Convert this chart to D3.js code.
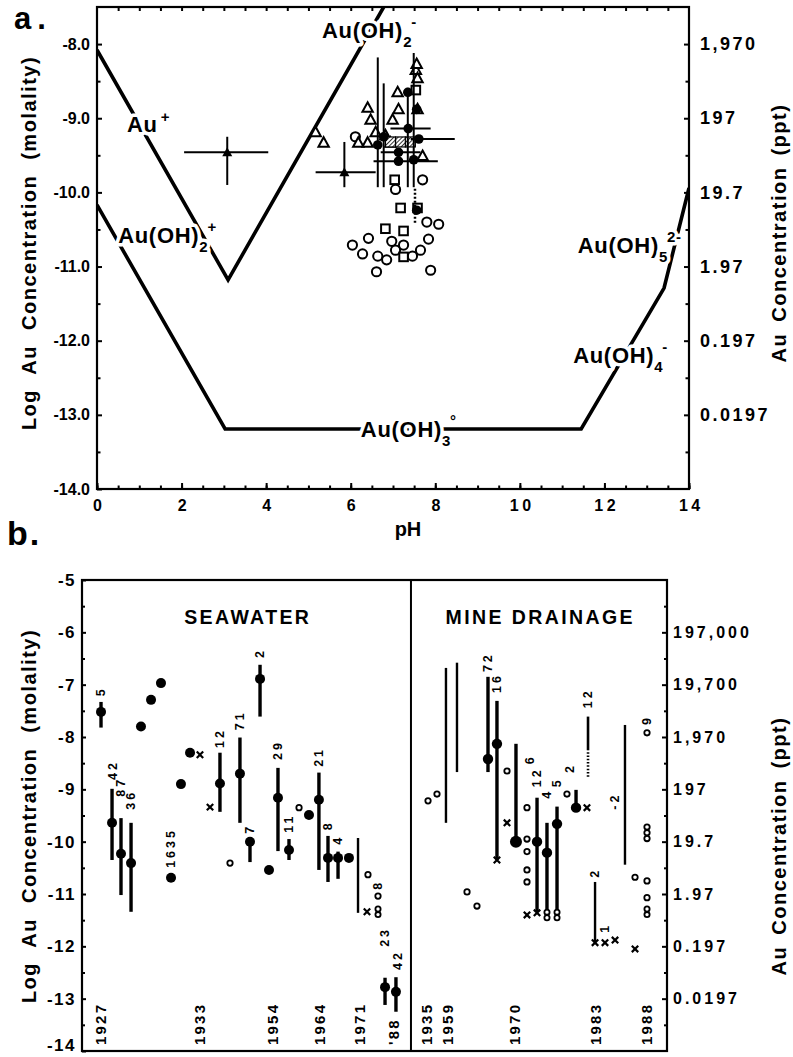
<!DOCTYPE html>
<html><head><meta charset="utf-8">
<script src="https://cdn.jsdelivr.net/npm/d3@7"></script>
<style>
html,body{margin:0;padding:0;background:#fff;}
text{font-family:"Liberation Sans",Arial,Helvetica,sans-serif;font-weight:bold;fill:#000;}
</style></head><body>
<svg id="chart" width="793" height="1057" xmlns="http://www.w3.org/2000/svg"></svg>
<script>
// ================= PANEL a DATA =================
const phTickValues = [0, 2, 4, 6, 8, 10, 12, 14];
const logTickValuesA = [-14, -13, -12, -11, -10, -9, -8];
const pptTickValuesA = [-13, -12, -11, -10, -9, -8];
const pptTickLabelsA = ["0.0197", "0.197", "1.97", "19.7", "197", "1,970"];

// stability boundaries [pH, log molality]
const boundaryAuPlus = [[0, -8.08], [3.10, -11.18], [6.78, -7.5]];
const boundaryAuOH3 = [[0, -10.17], [3.03, -13.19], [11.45, -13.19], [13.41, -11.29], [14, -9.94]];

// species labels: base, subscript, superscript, pH, log (baseline start)
const speciesLabels = [
  {base: "Au", sub: "", sup: "+", ph: 0.71, log: -9.19},
  {base: "Au(OH)", sub: "2", sup: "-", ph: 5.32, log: -7.92},
  {base: "Au(OH)", sub: "2", sup: "+", ph: 0.50, log: -10.68},
  {base: "Au(OH)", sub: "3", sup: "°", ph: 6.24, log: -13.30},
  {base: "Au(OH)", sub: "4", sup: "-", ph: 11.26, log: -12.30},
  {base: "Au(OH)", sub: "5", sup: "2-", ph: 11.37, log: -10.82}
];

const openTriangles = [[5.17,-9.19],[5.36,-9.33],[7.54,-8.35],[7.58,-8.46],[7.56,-8.27],[7.11,-8.65],
  [6.40,-8.86],[7.13,-8.88],[7.58,-8.88],[6.47,-9.02],[6.99,-9.02],[6.59,-9.19],[6.18,-9.33],
  [6.40,-9.33],[6.82,-9.23],[6.94,-9.33],[7.70,-9.51]];
const openCircles = [[6.11,-9.25],[7.06,-9.96],[7.70,-9.83],[7.80,-10.40],[8.08,-10.43],[7.84,-10.63],
  [6.04,-10.71],[6.42,-10.62],[6.28,-10.83],[6.64,-10.86],[6.85,-10.91],[6.97,-10.66],[7.06,-10.78],
  [7.25,-10.71],[7.46,-10.86],[7.65,-10.78],[6.61,-11.07],[7.89,-11.05]];
const openSquares = [[7.04,-9.83],[7.18,-10.21],[6.82,-10.49],[7.25,-10.52],[7.25,-10.87],[7.54,-8.62],[7.58,-10.21]];
const hatchedSquares = [[6.94,-9.32],[7.18,-9.32],[7.41,-9.32]];
// filled circles: [pH, log, logLo, logHi, pHLo, pHHi]
const filledCircles = [
  [6.64,-9.36,-9.93,-8.18,null,null],
  [6.78,-9.25,-9.93,-8.53,null,null],
  [7.13,-9.58,null,null,6.54,8.06],
  [7.13,-9.46,null,null,6.71,7.65],
  [7.49,-9.56,-9.93,-8.12,null,null],
  [7.36,-9.14,null,null,6.94,7.89],
  [7.61,-9.28,null,null,7.42,8.46],
  [7.35,-8.65,-9.93,-8.59,null,null],
  [7.56,-8.88,null,null,null,null],
  [7.56,-10.24,null,null,null,null]
];
const dottedRangesA = [[7.52,-10.41,-9.94]];
// filled triangles: [pH, log, logLo, logHi, pHLo, pHHi]
const filledTriangles = [[3.08,-9.46,-9.90,-9.25,2.06,4.05],[5.85,-9.73,-9.93,-9.32,5.17,6.59]];

// ================= PANEL b DATA =================
const logTickValuesB = [-14, -13, -12, -11, -10, -9, -8, -7, -6, -5];
const pptTickValuesB = [-13, -12, -11, -10, -9, -8, -7, -6];
const pptTickLabelsB = ["0.0197", "0.197", "1.97", "19.7", "197", "1,970", "19,700", "197,000"];
const groupNames = ["SEAWATER", "MINE DRAINAGE"];
const groupCenters = [17, 47];
const dividerSlot = 33.74;

// filled points: [slot, value, lo, hi]
const swPoints = [
  [1.95,-7.52,-7.82,-7.33],[3.08,-9.64,-10.35,-8.99],[4.0,-10.23,-11.02,-9.55],[5.03,-10.41,-11.34,-9.64],
  [6.05,-7.80,null,null],[7.08,-7.29,null,null],[8.1,-6.97,null,null],[9.13,-10.69,null,null],
  [10.15,-8.90,null,null],[11.08,-8.30,null,null],[14.15,-8.89,-9.43,-8.30],[16.2,-8.70,-9.64,-8.01],
  [17.23,-10.0,-10.39,-9.97],[18.26,-6.89,-7.61,-6.62],[19.18,-10.54,null,null],[20.1,-9.16,-10.18,-8.59],
  [21.23,-10.16,-10.35,-9.95],[23.28,-9.49,null,null],[24.3,-9.20,-10.54,-8.68],[25.23,-10.31,-10.77,-9.89],
  [26.26,-10.31,-10.71,-10.19],[27.38,-10.31,null,null],[31.08,-12.78,-13.12,-12.60],[32.2,-12.87,-13.25,-12.59]
];
const mdPoints = [
  [41.64,-8.42,-8.67,-6.85],[42.56,-8.13,-10.35,-7.31],[44.51,-10.0,-10.0,-8.13],[46.67,-10.0,-11.34,-9.16],
  [47.69,-10.21,-11.44,-9.64],[48.72,-9.66,-11.44,-9.33],[50.67,-9.35,-9.35,-9.01]
];
// range bars without a point: [slot, lo, hi]
const thinBars = [[28.31,-11.36,-9.93],[37.33,-9.64,-6.68],[38.46,-8.67,-6.58],[55.69,-10.44,-7.77],[52.62,-11.93,-10.77]];
// dotted range: [slot, lo, hi, solidTo]
const dottedBars = [[51.9,-8.76,-7.61,-8.25]];
// small open circles: [slot, value]
const smallCircles = [
  [15.18,-10.41],[22.26,-9.35],[29.33,-10.63],[30.36,-11.04],
  [35.49,-9.22],[36.41,-9.09],[39.49,-10.96],[40.51,-11.23],[43.59,-8.65],
  [45.64,-9.35],[45.64,-9.95],[45.64,-10.19],[45.64,-10.54],[45.64,-10.77],
  [49.74,-9.09],[56.72,-10.68],
  [57.95,-7.92],[57.95,-9.72],[57.95,-9.83],[57.95,-9.94],[57.95,-10.75],[57.95,-11.07]
];
// double circles: [slot, value]
const doubleCircles = [[30.36,-11.34],[47.69,-11.40],[48.72,-11.40],[57.95,-11.34]];
// crosses: [slot, value]
const crosses = [[12.1,-8.34],[13.13,-9.34],[29.23,-11.34],[42.56,-10.35],[43.59,-9.64],[45.64,-11.40],
  [46.67,-11.36],[51.79,-9.35],[52.62,-11.93],[53.64,-11.93],[54.67,-11.88],[56.72,-12.05]];
// sample-count labels: [slot, value at label start, text]
const countLabels = [
  [1.95,-7.22,"5"],[3.2,-8.82,"42"],[4.0,-9.14,"87"],[5.03,-9.39,"36"],[9.13,-10.5,"1635"],
  [14.15,-8.21,"12"],[16.2,-7.87,"71"],[17.23,-9.85,"7"],[18.26,-6.49,"2"],[20.1,-8.44,"29"],
  [21.23,-9.83,"11"],[24.3,-8.57,"21"],[25.23,-9.78,"8"],[26.26,-10.06,"4"],[30.36,-10.92,"8"],
  [31.08,-12.01,"23"],[32.4,-12.45,"42"],
  [41.64,-6.76,"72"],[42.56,-7.16,"16"],[45.95,-8.52,"6"],[46.67,-8.96,"12"],[47.69,-9.18,"4"],
  [48.72,-8.96,"5"],[50.05,-8.69,"2"],[51.9,-7.45,"12"],[52.62,-10.69,"2"],[53.64,-11.74,"1"],
  [54.67,-9.39,"-2"],[57.95,-7.77,"9"]
];
// year labels: [slot, text]
const yearLabels = [
  [1.85,"1927"],[12.1,"1933"],[19.49,"1954"],[24.41,"1964"],[28.51,"1971"],[31.9,"'88"],
  [35.38,"1935"],[37.44,"1959"],[44.41,"1970"],[52.62,"1983"],[57.85,"1988"]
];

// ================= DRAWING =================
const svg = d3.select("#chart");
const defs = svg.append("defs");
const pat = defs.append("pattern").attr("id","hatch").attr("patternUnits","userSpaceOnUse")
  .attr("width",3).attr("height",3).attr("patternTransform","rotate(45)");
pat.append("rect").attr("width",3).attr("height",3).attr("fill","#fff");
pat.append("line").attr("x1",0).attr("y1",0).attr("x2",0).attr("y2",3).attr("stroke","#000").attr("stroke-width",1.6);

function vtext(g, x, y, s, size, ls, anchor) {
  return g.append("text")
    .attr("transform", `translate(${x},${y}) rotate(-90)`)
    .attr("text-anchor", anchor)
    .attr("dominant-baseline", "central")
    .style("font-size", size + "px")
    .style("letter-spacing", ls + "px")
    .text(s);
}

// ---------- Panel a ----------
const xA = d3.scaleLinear().domain([0, 14]).range([97, 689]);
const yA = d3.scaleLinear().domain([-14, -7.5]).range([489, 7]);
const gA = svg.append("g");

// boundary lines
const lineA = d3.line().x(d => xA(d[0])).y(d => yA(d[1]));
const clipA = defs.append("clipPath").attr("id", "clipA");
clipA.append("rect").attr("x", xA(0)).attr("y", yA(-7.5)).attr("width", xA(14) - xA(0)).attr("height", yA(-14) - yA(-7.5));
[boundaryAuPlus, boundaryAuOH3].forEach(b => {
  gA.append("path").attr("d", lineA(b)).attr("fill", "none").attr("stroke", "#000")
    .attr("stroke-width", 3.6).attr("stroke-linejoin", "miter").attr("clip-path", "url(#clipA)");
});

// species labels with white halo (breaks the lines)
speciesLabels.forEach(l => {
  const t = gA.append("text").attr("x", xA(l.ph)).attr("y", yA(l.log))
    .style("font-size", "22px").style("letter-spacing", "0.7px")
    .attr("stroke", "#fff").attr("stroke-width", 7).attr("paint-order", "stroke").attr("stroke-linejoin", "round");
  t.append("tspan").text(l.base);
  if (l.sub) t.append("tspan").attr("dy", 9).style("font-size", "15px").text(l.sub);
  if (l.sup) t.append("tspan").attr("dy", l.sub ? -20 : -10).attr("dx", l.sub ? -1 : 3).style("font-size", "15px").text(l.sup);
});

// frame (drawn after halos)
gA.append("rect").attr("x", xA(0)).attr("y", yA(-7.5)).attr("width", xA(14) - xA(0))
  .attr("height", yA(-14) - yA(-7.5)).attr("fill", "none").attr("stroke", "#000").attr("stroke-width", 2.2);

// bottom axis: labels + major ticks
const axB = gA.append("g").attr("transform", `translate(0,${yA(-14)})`)
  .call(d3.axisBottom(xA).tickValues(phTickValues).tickSizeInner(-6).tickSizeOuter(0).tickPadding(11).tickFormat(d => String(d)));
axB.select(".domain").remove();
axB.selectAll("line").attr("stroke-width", 2);
axB.selectAll("text").style("font-size", "16px").style("letter-spacing", "3.5px").attr("dx", "1.8px").attr("fill", "#000");
const axBm = gA.append("g").attr("transform", `translate(0,${yA(-14)})`)
  .call(d3.axisBottom(xA).tickValues(d3.range(0, 14.01, 0.5)).tickSizeInner(-3.5).tickSizeOuter(0).tickFormat(""));
axBm.select(".domain").remove(); axBm.selectAll("line").attr("stroke-width", 2);
const axT = gA.append("g").attr("transform", `translate(0,${yA(-7.5)})`)
  .call(d3.axisTop(xA).tickValues(d3.range(0.5, 14, 0.5)).tickSizeInner(-4).tickSizeOuter(0).tickFormat(""));
axT.select(".domain").remove(); axT.selectAll("line").attr("stroke-width", 2);

// left axis
const axL = gA.append("g").attr("transform", `translate(${xA(0)},0)`)
  .call(d3.axisLeft(yA).tickValues(logTickValuesA).tickSizeInner(-5).tickSizeOuter(0).tickPadding(7).tickFormat(d => d.toFixed(1)));
axL.select(".domain").remove(); axL.selectAll("line").attr("stroke-width", 2);
axL.selectAll("text").style("font-size", "16px").attr("fill", "#000");
const axLm = gA.append("g").attr("transform", `translate(${xA(0)},0)`)
  .call(d3.axisLeft(yA).tickValues(d3.range(-13.5, -7.5, 1)).tickSizeInner(-3.5).tickSizeOuter(0).tickFormat(""));
axLm.select(".domain").remove(); axLm.selectAll("line").attr("stroke-width", 2);

// right axis
const axR = gA.append("g").attr("transform", `translate(${xA(14)},0)`)
  .call(d3.axisRight(yA).tickValues(pptTickValuesA).tickSizeInner(-5).tickSizeOuter(0).tickPadding(11).tickFormat((d, i) => pptTickLabelsA[i]));
axR.select(".domain").remove(); axR.selectAll("line").attr("stroke-width", 2);
axR.selectAll("text").style("font-size", "18px").style("letter-spacing", "2.5px").attr("fill", "#000");
const axRm = gA.append("g").attr("transform", `translate(${xA(14)},0)`)
  .call(d3.axisRight(yA).tickValues(d3.range(-13.5, -7.5, 1)).tickSizeInner(-3.5).tickSizeOuter(0).tickFormat(""));
axRm.select(".domain").remove(); axRm.selectAll("line").attr("stroke-width", 2);

// axis titles
gA.append("text").attr("x", 408).attr("y", 536).attr("text-anchor", "middle").style("font-size", "20px").text("pH");
vtext(gA, 29, 243, "Log  Au  Concentration  (molality)", 20, 1.5, "middle").style("word-spacing", "8px");
vtext(gA, 779, 233, "Au  Concentration  (ppt)", 20, 1.5, "middle").style("word-spacing", "4px");
gA.append("text").attr("x", 14).attr("y", 29).style("font-size", "31px").style("letter-spacing", "6px").text("a.");

// open symbols
gA.selectAll(".oc").data(openCircles).join("circle").attr("cx", d => xA(d[0])).attr("cy", d => yA(d[1]))
  .attr("r", 4.6).attr("fill", "#fff").attr("stroke", "#000").attr("stroke-width", 2);
const triPath = "M0,-5.5L5.2,4L-5.2,4Z";
gA.selectAll(".ot").data(openTriangles).join("path").attr("d", triPath)
  .attr("transform", d => `translate(${xA(d[0])},${yA(d[1])})`).attr("fill", "#fff").attr("stroke", "#000").attr("stroke-width", 2);
gA.selectAll(".os").data(openSquares).join("rect").attr("x", d => xA(d[0]) - 4.3).attr("y", d => yA(d[1]) - 4.3)
  .attr("width", 8.6).attr("height", 8.6).attr("fill", "#fff").attr("stroke", "#000").attr("stroke-width", 2);
gA.selectAll(".hs").data(hatchedSquares).join("rect").attr("x", d => xA(d[0]) - 5).attr("y", d => yA(d[1]) - 5)
  .attr("width", 10).attr("height", 10).attr("fill", "url(#hatch)").attr("stroke", "#000").attr("stroke-width", 1.2);

// error bars + filled circles
filledCircles.forEach(d => {
  if (d[2] !== null) gA.append("line").attr("x1", xA(d[0])).attr("x2", xA(d[0])).attr("y1", yA(d[2])).attr("y2", yA(d[3]))
    .attr("stroke", "#000").attr("stroke-width", 2);
  if (d[4] !== null) gA.append("line").attr("x1", xA(d[4])).attr("x2", xA(d[5])).attr("y1", yA(d[1])).attr("y2", yA(d[1]))
    .attr("stroke", "#000").attr("stroke-width", 2);
});
dottedRangesA.forEach(d => {
  gA.append("line").attr("x1", xA(d[0])).attr("x2", xA(d[0])).attr("y1", yA(d[1])).attr("y2", yA(d[2]))
    .attr("stroke", "#000").attr("stroke-width", 2.5).attr("stroke-dasharray", "2,2");
});
gA.selectAll(".fc").data(filledCircles).join("circle").attr("cx", d => xA(d[0])).attr("cy", d => yA(d[1]))
  .attr("r", 4.8).attr("fill", "#000");
filledTriangles.forEach(d => {
  gA.append("line").attr("x1", xA(d[0])).attr("x2", xA(d[0])).attr("y1", yA(d[2])).attr("y2", yA(d[3])).attr("stroke", "#000").attr("stroke-width", 2);
  gA.append("line").attr("x1", xA(d[4])).attr("x2", xA(d[5])).attr("y1", yA(d[1])).attr("y2", yA(d[1])).attr("stroke", "#000").attr("stroke-width", 2);
  gA.append("path").attr("d", "M0,-5L5,4L-5,4Z").attr("transform", `translate(${xA(d[0])},${yA(d[1])})`).attr("fill", "#000");
});

// ---------- Panel b ----------
const xB = d3.scaleLinear().domain([0, 60]).range([82, 667]);
const yB = d3.scaleLinear().domain([-14, -5]).range([1051, 580]);
const gB = svg.append("g");

gB.append("rect").attr("x", xB(0)).attr("y", yB(-5)).attr("width", xB(60) - xB(0)).attr("height", yB(-14) - yB(-5))
  .attr("fill", "none").attr("stroke", "#000").attr("stroke-width", 2.2);
gB.append("line").attr("x1", xB(dividerSlot)).attr("x2", xB(dividerSlot)).attr("y1", yB(-5)).attr("y2", yB(-14))
  .attr("stroke", "#000").attr("stroke-width", 2);

const bL = gB.append("g").attr("transform", `translate(${xB(0)},0)`)
  .call(d3.axisLeft(yB).tickValues(logTickValuesB).tickSizeInner(-4).tickSizeOuter(0).tickPadding(6).tickFormat(d => String(d)));
bL.select(".domain").remove(); bL.selectAll("line").attr("stroke-width", 2);
bL.selectAll("text").style("font-size", "17px").style("letter-spacing", "1.5px").attr("fill", "#000");
bL.selectAll("text").filter(d => d === -14).attr("dy", "-0.05em");
const bLm = gB.append("g").attr("transform", `translate(${xB(0)},0)`)
  .call(d3.axisLeft(yB).tickValues(d3.range(-13.5, -5, 1)).tickSizeInner(-3).tickSizeOuter(0).tickFormat(""));
bLm.select(".domain").remove(); bLm.selectAll("line").attr("stroke-width", 2);
const bR = gB.append("g").attr("transform", `translate(${xB(60)},0)`)
  .call(d3.axisRight(yB).tickValues(pptTickValuesB).tickSizeInner(-5).tickSizeOuter(0).tickPadding(6).tickFormat((d, i) => pptTickLabelsB[i]));
bR.select(".domain").remove(); bR.selectAll("line").attr("stroke-width", 2);
bR.selectAll("text").style("font-size", "16px").style("letter-spacing", "3px").attr("fill", "#000");
const bRm = gB.append("g").attr("transform", `translate(${xB(60)},0)`)
  .call(d3.axisRight(yB).tickValues(d3.range(-13.5, -5, 1)).tickSizeInner(-3).tickSizeOuter(0).tickFormat(""));
bRm.select(".domain").remove(); bRm.selectAll("line").attr("stroke-width", 2);

vtext(gB, 29, 816, "Log  Au  Concentration  (molality)", 20, 1.5, "middle").style("word-spacing", "8px");
vtext(gB, 779, 846, "Au  Concentration  (ppt)", 20, 1.5, "middle").style("word-spacing", "4px");
gB.append("text").attr("x", 7).attr("y", 545).style("font-size", "34px").style("letter-spacing", "2px").text("b.");

groupNames.forEach((n, i) => {
  gB.append("text").attr("x", xB(groupCenters[i])).attr("y", 624).attr("text-anchor", "middle")
    .style("font-size", "19.5px").style("letter-spacing", "2.4px").text(n);
});

// bars
[...swPoints, ...mdPoints].filter(d => d[2] !== null).forEach(d => {
  gB.append("line").attr("x1", xB(d[0])).attr("x2", xB(d[0])).attr("y1", yB(d[2])).attr("y2", yB(d[3]))
    .attr("stroke", "#000").attr("stroke-width", 3.4);
});
thinBars.forEach(d => {
  gB.append("line").attr("x1", xB(d[0])).attr("x2", xB(d[0])).attr("y1", yB(d[1])).attr("y2", yB(d[2]))
    .attr("stroke", "#000").attr("stroke-width", 2.4);
});
dottedBars.forEach(d => {
  gB.append("line").attr("x1", xB(d[0])).attr("x2", xB(d[0])).attr("y1", yB(d[3])).attr("y2", yB(d[2]))
    .attr("stroke", "#000").attr("stroke-width", 2.6);
  gB.append("line").attr("x1", xB(d[0])).attr("x2", xB(d[0])).attr("y1", yB(d[1])).attr("y2", yB(d[3]))
    .attr("stroke", "#000").attr("stroke-width", 2.6).attr("stroke-dasharray", "1.5,1.8");
});
// points
gB.selectAll(".sw").data(swPoints).join("circle").attr("cx", d => xB(d[0])).attr("cy", d => yB(d[1])).attr("r", 5).attr("fill", "#000");
gB.selectAll(".md").data(mdPoints).join("circle").attr("cx", d => xB(d[0])).attr("cy", d => yB(d[1]))
  .attr("r", (d, i) => i === 2 ? 6 : 5.2).attr("fill", "#000");
gB.selectAll(".sc").data(smallCircles).join("circle").attr("cx", d => xB(d[0])).attr("cy", d => yB(d[1]))
  .attr("r", 2.7).attr("fill", "#fff").attr("stroke", "#000").attr("stroke-width", 1.8);
doubleCircles.forEach(d => {
  [-2.8, 2.8].forEach(o => gB.append("circle").attr("cx", xB(d[0])).attr("cy", yB(d[1]) + o).attr("r", 2.6)
    .attr("fill", "#fff").attr("stroke", "#000").attr("stroke-width", 1.8));
});
gB.selectAll(".cr").data(crosses).join("path").attr("d", "M-3.2,-3.2L3.2,3.2M-3.2,3.2L3.2,-3.2")
  .attr("transform", d => `translate(${xB(d[0])},${yB(d[1])})`).attr("stroke", "#000").attr("stroke-width", 2.2);

// labels
countLabels.forEach(d => vtext(gB, xB(d[0]), yB(d[1]), d[2], 12.5, 3, "start"));
yearLabels.forEach(d => vtext(gB, xB(d[0]), yB(-14) - 6, d[1], 15, 2.2, "start"));
</script>
</body></html>
